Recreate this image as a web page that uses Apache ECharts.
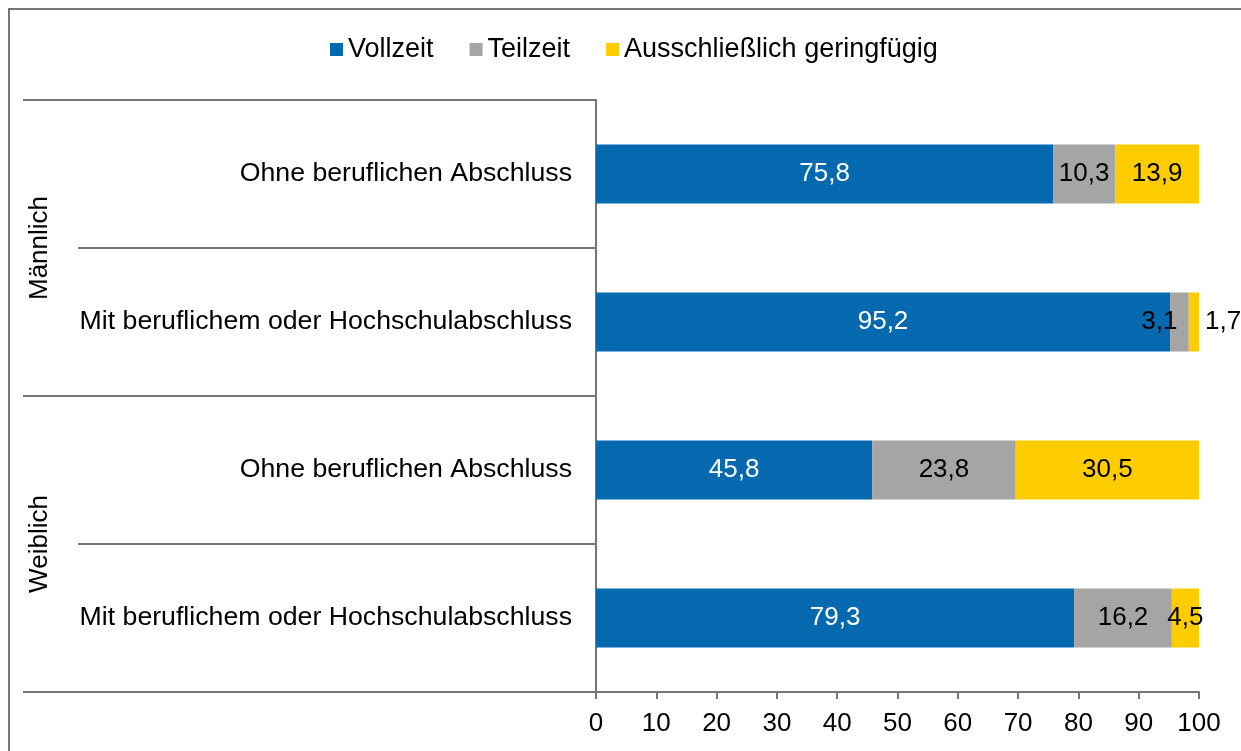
<!DOCTYPE html>
<html>
<head>
<meta charset="utf-8" />
<title>Erwerbsumfang nach Geschlecht und Abschluss</title>
<script src="https://cdn.jsdelivr.net/npm/echarts@6/dist/echarts.min.js"></script>
<style>
	html, body { margin: 0; padding: 0; background: #fff; overflow: hidden; }
	#rahmen { position: absolute; left: 8px; top: 8px; width: 1400px; height: 900px;
		border-left: 2px solid #767676; border-top: 2px solid #767676; }
	#chart { position: absolute; left: 0; top: 0; width: 1241px; height: 751px; }
</style>
</head>
<body>
<div id="rahmen"></div>
<div id="chart"></div>
<script>
	// Daten
	var kategorien = ['Ohne beruflichen Abschluss', 'Mit beruflichem oder Hochschulabschluss',
		'Ohne beruflichen Abschluss', 'Mit beruflichem oder Hochschulabschluss'];
	var gruppen = ['Männlich', 'Weiblich'];
	var vollzeit = [75.8, 95.2, 45.8, 79.3];
	var teilzeit = [10.3, 3.1, 23.8, 16.2];
	var geringfuegig = [13.9, 1.7, 30.5, 4.5];
	var achsenTicks = [0, 10, 20, 30, 40, 50, 60, 70, 80, 90, 100];

	var schrift = "'Liberation Sans', Arial, sans-serif";
	var linie = { color: '#767676', width: 2 };

	function komma(p) {
		return p.value.toFixed(1).replace('.', ',');
	}

	var myChart = echarts.init(document.getElementById('chart'));

	// Sonderfaelle bei den schmalen Segmenten
	var teilzeitDaten = teilzeit.map(function(v, i) {
		if (i === 1) return { value: v, label: { offset: [-20, 0] } };
		return v;
	});
	var geringDaten = geringfuegig.map(function(v, i) {
		if (i === 1) return { value: v, label: { position: 'right', distance: 6 } };
		return v;
	});

	myChart.setOption({
		animation: false,
		textStyle: { fontFamily: schrift },
		legend: {
			top: 36,
			left: 330,
			padding: 0,
			itemWidth: 13,
			itemHeight: 13,
			itemGap: 36,
			icon: 'rect',
			textStyle: { fontSize: 27, color: '#000', fontFamily: schrift },
			data: ['Vollzeit', 'Teilzeit', 'Ausschließlich geringfügig']
		},
		grid: { left: 596, right: 42, top: 100, bottom: 59 },
		xAxis: {
			type: 'value',
			min: achsenTicks[0],
			max: achsenTicks[achsenTicks.length - 1],
			interval: 10,
			axisLine: { show: true, lineStyle: linie },
			axisTick: { show: true, length: 7, lineStyle: linie },
			splitLine: { show: false },
			axisLabel: { fontSize: 26, color: '#000', margin: 19, fontFamily: schrift }
		},
		yAxis: [{
			type: 'category',
			data: kategorien,
			inverse: true,
			axisLine: { show: true, lineStyle: linie },
			axisTick: { show: true, length: 518, lineStyle: linie },
			axisLabel: { fontSize: 26.7, color: '#000', margin: 24, fontFamily: schrift }
		}, {
			type: 'category',
			data: gruppen,
			inverse: true,
			position: 'left',
			axisLine: { show: false },
			axisTick: { show: true, length: 573, lineStyle: linie },
			axisLabel: { fontSize: 26, color: '#000', rotate: 90, margin: 543, fontFamily: schrift }
		}],
		series: [{
			name: 'Vollzeit',
			type: 'bar',
			stack: 'gesamt',
			barWidth: 59,
			itemStyle: { color: '#0569B0' },
			label: { show: true, position: 'inside', color: '#fff', fontSize: 26, formatter: komma },
			data: vollzeit
		}, {
			name: 'Teilzeit',
			type: 'bar',
			stack: 'gesamt',
			barWidth: 59,
			itemStyle: { color: '#A5A5A5' },
			label: { show: true, position: 'inside', color: '#000', fontSize: 26, formatter: komma },
			data: teilzeitDaten
		}, {
			name: 'Ausschließlich geringfügig',
			type: 'bar',
			stack: 'gesamt',
			barWidth: 59,
			itemStyle: { color: '#FFCC00' },
			label: { show: true, position: 'inside', color: '#000', fontSize: 26, formatter: komma },
			data: geringDaten
		}]
	});

	window.onresize = function() {
		myChart.resize();
	};
</script>
</body>
</html>
